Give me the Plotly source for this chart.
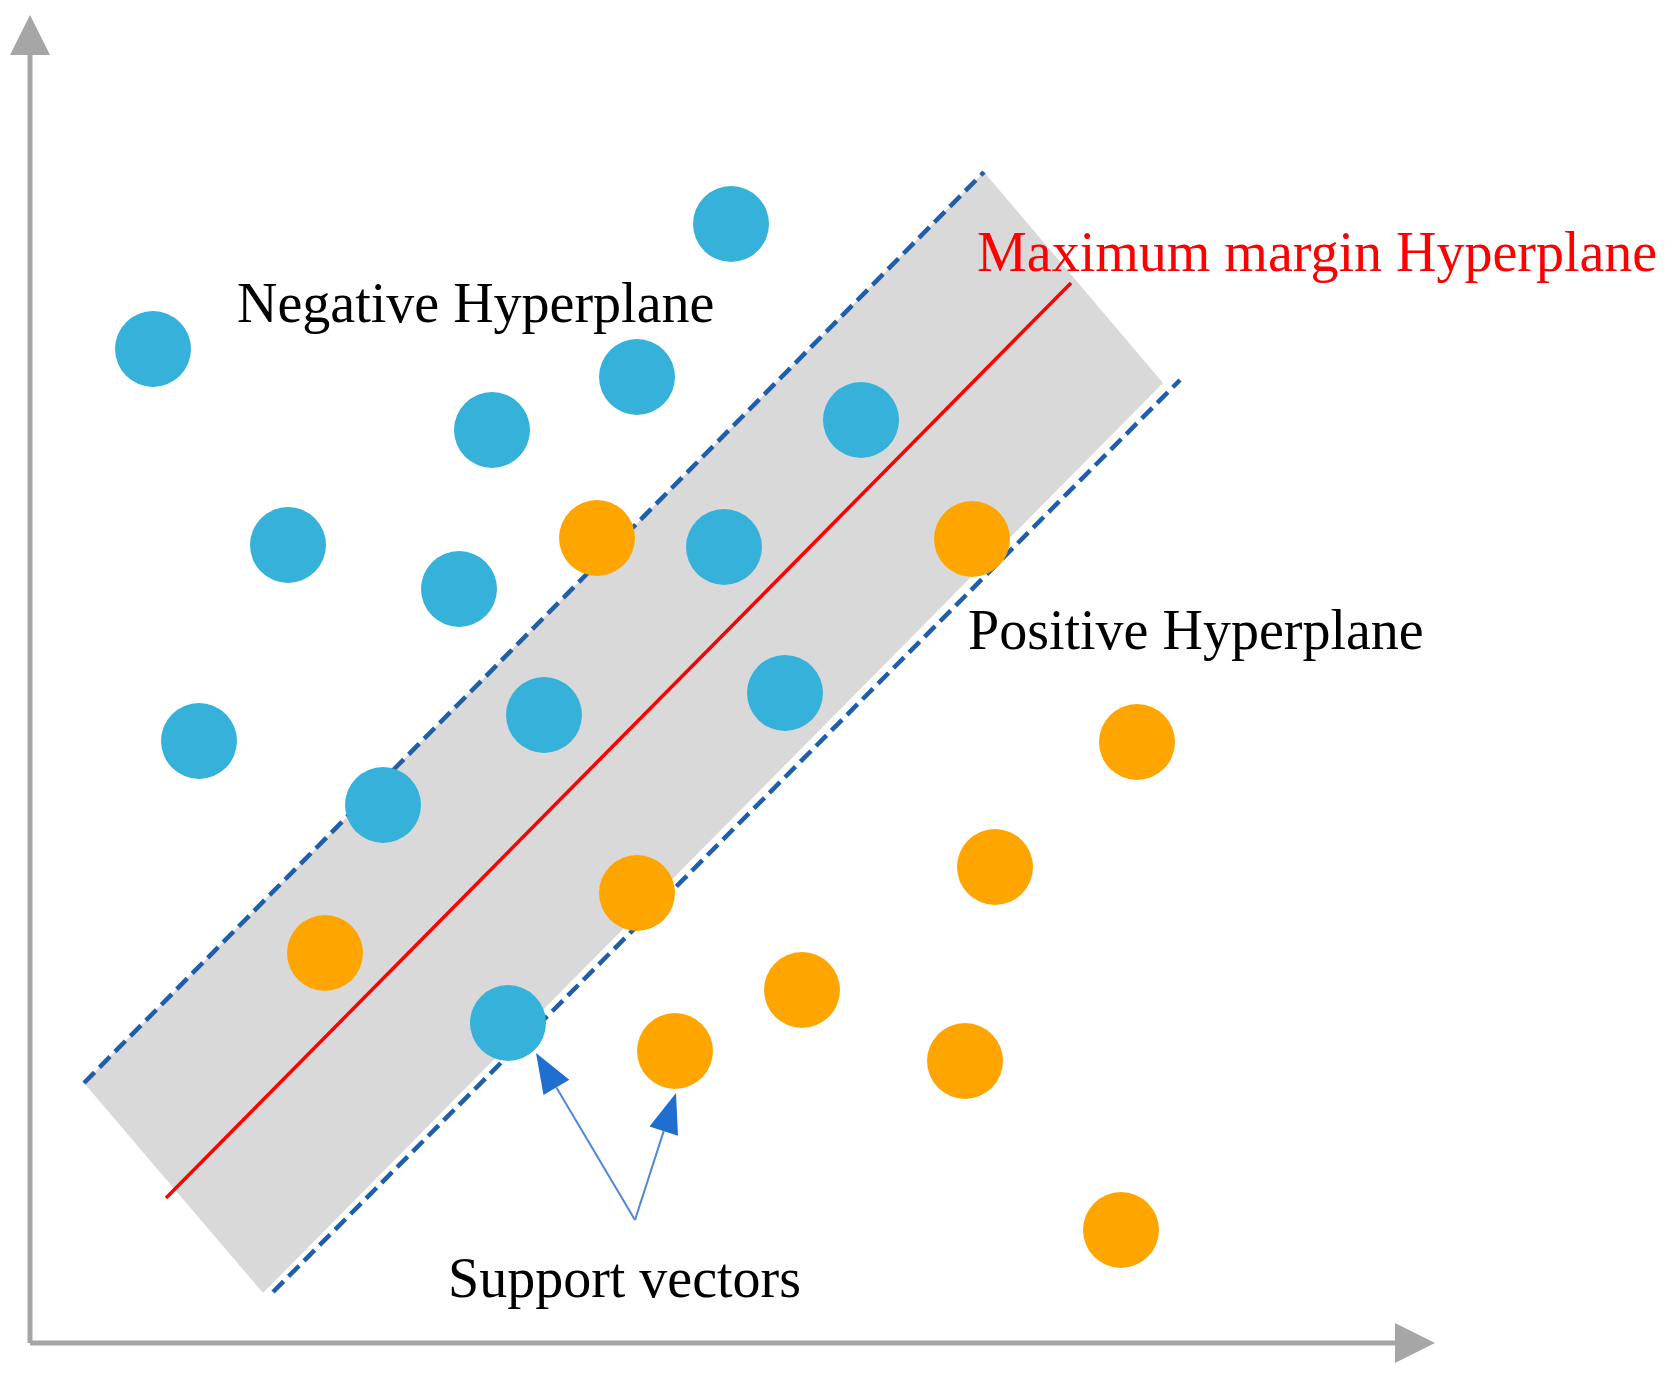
import numpy as np
import plotly.graph_objects as go

# ---- data (pixel-space coordinates of the diagram, y grows downward) ----
blue_x = [153, 492, 731, 637, 861, 288, 459, 724, 199, 544, 785, 383, 508]
blue_y = [349, 430, 224, 377, 420, 545, 589, 547, 741, 715, 693, 805, 1023]
orange_x = [597, 972, 1137, 995, 637, 325, 802, 675, 965, 1121]
orange_y = [538, 539, 742, 867, 893, 953, 990, 1051, 1061, 1230]

band_x = [84, 984, 1163, 263]
band_y = [1083, 172, 383, 1293]
neg_line_x = [84, 984]
neg_line_y = [1083, 172]
pos_line_x = [273, 1180]
pos_line_y = [1292, 380]
max_line_x = [166, 1071]
max_line_y = [1198, 283]

axis_origin = (30, 1343)
y_axis_tip = (30, 15)
x_axis_tip = (1435, 1343)

sv_apex = (635, 1220)
sv_tips_x = [536, 676]
sv_tips_y = [1053, 1093]

labels = ["Negative Hyperplane", "Maximum margin Hyperplane",
          "Positive Hyperplane", "Support vectors"]
label_x = [235, 975, 966, 446]
label_y = [303, 252, 630, 1278]
label_colors = ["black", "#ff0000", "black", "black"]

W, H = 1670, 1386

BLUE = "#35b1da"
ORANGE = "#ffa500"
AXIS = "#a6a6a6"
DASH = "#1f5ea8"


def head(tip, tail, length, half):
    tip = np.array(tip, float)
    tail = np.array(tail, float)
    d = tip - tail
    d /= np.linalg.norm(d)
    n = np.array([-d[1], d[0]])
    base = tip - d * length
    p1 = base + n * half
    p2 = base - n * half
    return [tip[0], p1[0], p2[0], tip[0]], [tip[1], p1[1], p2[1], tip[1]], base


fig = go.Figure()

# margin band
fig.add_trace(go.Scatter(x=band_x + [band_x[0]], y=band_y + [band_y[0]], mode="lines",
                         fill="toself", fillcolor="#d9d9d9", line=dict(width=0),
                         hoverinfo="skip"))
# hyperplanes
fig.add_trace(go.Scatter(x=neg_line_x, y=neg_line_y, mode="lines",
                         line=dict(color=DASH, width=4.5, dash="15px,7px")))
fig.add_trace(go.Scatter(x=pos_line_x, y=pos_line_y, mode="lines",
                         line=dict(color=DASH, width=4.5, dash="15px,7px")))
fig.add_trace(go.Scatter(x=max_line_x, y=max_line_y, mode="lines",
                         line=dict(color="#ff0000", width=3.5)))

# axes with arrowheads
for tip in (y_axis_tip, x_axis_tip):
    hx, hy, base = head(tip, axis_origin, 40, 20)
    fig.add_trace(go.Scatter(x=[axis_origin[0], base[0]], y=[axis_origin[1], base[1]],
                             mode="lines", line=dict(color=AXIS, width=5)))
    fig.add_trace(go.Scatter(x=hx, y=hy, mode="lines", fill="toself",
                             fillcolor=AXIS, line=dict(width=0)))

# support vector arrows
for tx, ty in zip(sv_tips_x, sv_tips_y):
    hx, hy, base = head((tx, ty), sv_apex, 40, 15)
    fig.add_trace(go.Scatter(x=[sv_apex[0], base[0]], y=[sv_apex[1], base[1]],
                             mode="lines", line=dict(color="#4f86d6", width=2)))
    fig.add_trace(go.Scatter(x=hx, y=hy, mode="lines", fill="toself",
                             fillcolor="#1e6fd0", line=dict(width=0)))

# points
fig.add_trace(go.Scatter(x=blue_x, y=blue_y, mode="markers",
                         marker=dict(color=BLUE, size=76, line=dict(width=0))))
fig.add_trace(go.Scatter(x=orange_x, y=orange_y, mode="markers",
                         marker=dict(color=ORANGE, size=76, line=dict(width=0))))

for t, x, y, c in zip(labels, label_x, label_y, label_colors):
    fig.add_annotation(x=x, y=y, text=t, showarrow=False, xanchor="left",
                       yanchor="middle",
                       font=dict(family="Liberation Serif, Times New Roman, serif",
                                 size=56, color=c))

fig.update_layout(width=W, height=H, margin=dict(l=0, r=0, t=0, b=0),
                  showlegend=False, plot_bgcolor="white", paper_bgcolor="white",
                  xaxis=dict(range=[0, W], visible=False, fixedrange=True),
                  yaxis=dict(range=[H, 0], visible=False, fixedrange=True))

fig.write_html("out.html", config={"displayModeBar": False},
               post_script="document.body.style.margin='0';")
